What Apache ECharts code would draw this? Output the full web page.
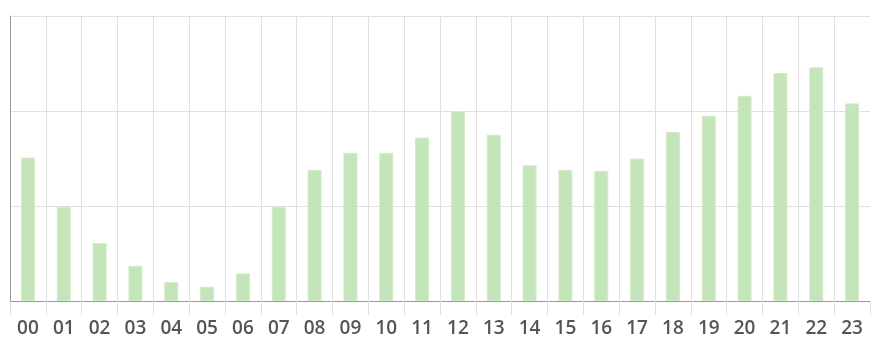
<!DOCTYPE html>
<html>
<head>
<meta charset="utf-8">
<script src="https://cdn.jsdelivr.net/npm/echarts@6/dist/echarts.min.js"></script>
<style>
html,body{margin:0;padding:0;background:#fff;}
#chart{width:893px;height:354px;}
</style>
</head>
<body>
<div id="chart"></div>
<script>
const hours = ['00','01','02','03','04','05','06','07','08','09','10','11','12','13','14','15','16','17','18','19','20','21','22','23'];
const values = [151, 99, 61, 37, 20, 15, 29, 99, 138, 156, 156, 172, 200, 175, 143, 138, 137, 150, 178, 195, 216, 240, 246, 208];

const chart = echarts.init(document.getElementById('chart'));
chart.setOption({
  animation: false,
  grid: {left: 10, right: 23, top: 16, bottom: 53, containLabel: false},
  xAxis: {
    type: 'category',
    data: hours,
    boundaryGap: true,
    axisLine: {show: true, lineStyle: {color: '#999', width: 1}},
    axisTick: {show: true, length: 14, lineStyle: {color: '#ddd'}},
    splitLine: {show: true, showMaxLine: false, lineStyle: {color: '#e0e0e0'}},
    axisLabel: {color: '#555', fontSize: 19, fontFamily: 'Open Sans', fontWeight: 600, margin: 18}
  },
  yAxis: {
    type: 'value',
    min: 0, max: 300, interval: 100,
    axisLine: {show: true, lineStyle: {color: '#999'}},
    axisTick: {show: false},
    axisLabel: {show: false},
    splitLine: {show: true, lineStyle: {color: '#e0e0e0'}}
  },
  series: [{
    type: 'bar',
    data: values,
    barWidth: 14,
    itemStyle: {color: '#c4e5b9', borderColor: '#d3ecc9', borderWidth: 1}
  }]
});
</script>
</body>
</html>
